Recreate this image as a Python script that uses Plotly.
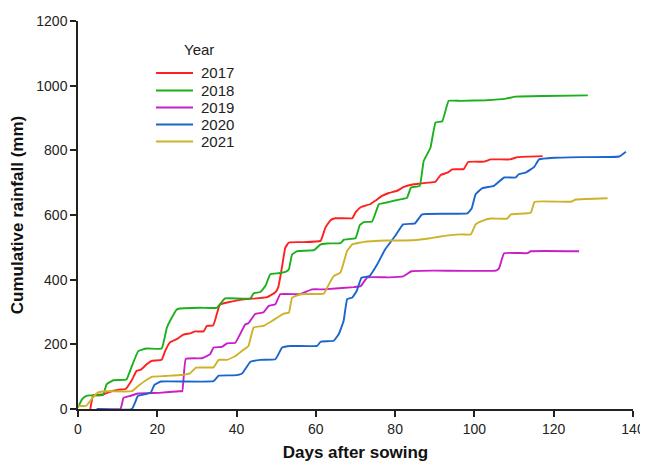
import plotly.graph_objects as go

# ---- data ----
years = ["2017", "2018", "2019", "2020", "2021"]
colors = ["#FF2020", "#1DB01D", "#C81FC8", "#1A66CC", "#CDB22A"]

days_2017 = [3.1, 3.8, 4.5, 6.3, 8.4, 10.4, 12, 13.6, 14.8, 15.9, 17.4, 18.6, 21.1, 22, 23.2, 24.9, 26.6, 28.3,
             29.6, 31.7, 32.5, 34.1, 35.5, 35.9, 37.1, 38.7, 40.2, 41.8, 44.9, 46.5, 47.7, 49.8, 50.5, 51.2, 52.3,
             53.2, 56.4, 61.2, 62.4, 63.7, 64.9, 69.2, 70, 71.3, 73.8, 75.1, 76.7, 78.4, 80.5, 82.2, 84.7, 86.2,
             88.3, 90.2, 91.5, 93.2, 94.4, 97.3, 98.4, 102.4, 104.1, 109, 110.9, 117.2]
rain_2017 = [0, 42, 44, 45, 55, 60, 62, 90, 118, 122, 139, 149, 152, 180, 206, 216, 230, 234,
             240, 240, 257, 258, 314, 324, 328, 332, 336, 339, 342, 344, 346, 361, 376, 420, 499,
             515, 516, 520, 561, 584, 590, 590, 608, 624, 634, 645, 659, 668, 675, 687, 695, 697,
             700, 703, 724, 731, 741, 742, 764, 765, 772, 772, 779, 782]

days_2018 = [0, 1, 2, 3, 6.3, 7.2, 8.9, 12.2, 13.5, 15.2, 17.3, 21.1, 22.4, 23.2, 24.9, 25.7, 30.8, 35, 36.2,
             37.1, 43.5, 44.3, 46, 47.3, 48.5, 50.6, 52.5, 53.2, 54, 55.3, 59.5, 61.2, 62.9, 66.2, 67.1, 70,
             71.1, 72.1, 74.2, 75.9, 77.6, 80, 82, 83, 84, 86.2, 87.2, 88.9, 90.2, 91.9, 93.5, 96.5, 103, 108,
             110.3, 117.9, 128.6]
rain_2018 = [5, 30, 40, 42, 43, 76, 89, 91, 130, 179, 187, 187, 251, 272, 308, 311, 313, 313, 330,
             342, 342, 358, 362, 381, 417, 420, 425, 432, 478, 488, 491, 509, 512, 513, 524, 528,
             569, 578, 580, 633, 638, 645, 650, 653, 685, 690, 767, 808, 886, 890, 953, 953, 955, 960,
             966, 968, 970]

days_2019 = [5, 10.7, 11.5, 13, 15.1, 20.4, 25.6, 26.3, 27.2, 31.3, 33.3, 34.2, 36.3, 37.6, 39.7, 42.2, 43,
             44.7, 46.8, 48.1, 49.8, 51, 56, 59, 62, 69.6, 71.3, 73, 78.4, 82, 84.1, 89.9, 105.4, 106.2,
             107.5, 113.4, 114.2, 126.4]
rain_2019 = [0, 0, 35, 40, 48, 50, 55, 55, 155, 157, 169, 190, 192, 203, 205, 262, 265,
             294, 299, 319, 324, 355, 355, 370, 370, 377, 380, 407, 407, 410, 426, 428, 428, 435,
             482, 482, 488, 488]

days_2020 = [4.7, 13.6, 15.1, 16.7, 18.3, 19.3, 20.9, 34.2, 35.5, 39.3, 41.4, 43.5, 46, 49.8, 51.5, 53.6,
             60.3, 61.2, 64.5, 65.8, 67, 67.9, 69.2, 70.3, 71.5, 73.5, 75.5, 77.5, 80, 82, 85, 86.8, 98.2,
             99.3, 100.3, 102, 104.9, 107.5, 110.4, 111.2, 112.9, 115.1, 116.3, 120.1, 126.9, 136.5, 138.2]
rain_2020 = [0, 0, 40, 45, 50, 75, 85, 86, 103, 104, 110, 146, 152, 154, 190, 195,
             195, 208, 211, 232, 272, 340, 345, 365, 406, 411, 448, 494, 535, 571, 574, 602, 605,
             620, 664, 683, 690, 716, 716, 726, 731, 749, 772, 777, 779, 781, 796]

days_2021 = [0, 2.1, 3.7, 5.2, 6.8, 13.6, 15.1, 16.7, 18.8, 21.9, 26.1, 28.2, 29.8, 34.2, 35.5, 37.6, 39.7,
             41.4, 43, 44.3, 46.8, 48.9, 51.9, 53.2, 54, 56.1, 62, 63.3, 64.5, 66.2, 67.9, 69.2, 72.1, 78,
             84.6, 88.8, 90.7, 96.5, 99.1, 100.3, 102, 104.1, 108.3, 109.2, 114.2, 115.2, 124.3, 125.6, 133.6]
rain_2021 = [10, 10, 35, 52, 55, 55, 70, 85, 100, 102, 105, 110, 128, 129, 152, 152, 164,
             180, 195, 252, 257, 272, 295, 298, 344, 355, 357, 386, 411, 422, 489, 509, 517, 521,
             522, 528, 532, 540, 540, 571, 582, 589, 589, 602, 607, 641, 641, 648, 652]

x_ticks = [0, 20, 40, 60, 80, 100, 120, 140]
y_ticks = [0, 200, 400, 600, 800, 1000, 1200]

series_days = [days_2017, days_2018, days_2019, days_2020, days_2021]
series_rain = [rain_2017, rain_2018, rain_2019, rain_2020, rain_2021]

# ---- figure ----
# page body has an 8px margin, so the figure is drawn 8px in from the top-left corner
OFF = 8
W, H = 648 - OFF, 465 - OFF
X0, X1, Y0, Y1 = 78, 633, 21, 409          # plot area in page pixels
L, R, T, B = X0 - OFF, 648 - X1, Y0 - OFF, 465 - Y1
pw, ph = X1 - X0, Y1 - Y0


def px(x):
    return (x - X0) / pw


def py(y):
    return (Y1 - y) / ph


fig = go.Figure()
for yr, c, d, r in zip(years, colors, series_days, series_rain):
    fig.add_trace(go.Scatter(x=d, y=r, mode="lines", name=yr,
                             line=dict(color=c, width=1.9, shape="spline", smoothing=0.3),
                             showlegend=False))

font = "Liberation Sans, Arial, sans-serif"

# manual legend
legend_y = [73, 90.5, 107.5, 124.5, 141.5]
shapes = []
annotations = [dict(x=px(182), y=py(50), xref="paper", yref="paper", text="Year", showarrow=False,
                    xanchor="left", yanchor="middle", font=dict(family=font, size=15, color="#222"))]
for yr, c, ly in zip(years, colors, legend_y):
    shapes.append(dict(type="line", xref="paper", yref="paper", x0=px(156), x1=px(193), y0=py(ly), y1=py(ly),
                       line=dict(color=c, width=2)))
    annotations.append(dict(x=px(199), y=py(ly), xref="paper", yref="paper", text=yr, showarrow=False,
                            xanchor="left", yanchor="middle", font=dict(family=font, size=15, color="#222")))

fig.update_layout(
    width=W, height=H,
    margin=dict(l=L, r=R, t=T, b=B, pad=0),
    paper_bgcolor="white", plot_bgcolor="white",
    font=dict(family=font, size=14, color="#222"),
    shapes=shapes, annotations=annotations,
    xaxis=dict(range=[0, 140], tickvals=x_ticks, showgrid=False, zeroline=False, automargin=False,
               showline=True, linecolor="#222", linewidth=1.5, ticks="outside", ticklen=6,
               tickwidth=1.5, tickcolor="#222", tickfont=dict(size=14),
               title=dict(text="<b>Days after sowing</b>", font=dict(size=17, color="#111"), standoff=11)),
    yaxis=dict(range=[0, 1200], tickvals=y_ticks, showgrid=False, zeroline=False, automargin=False,
               showline=True, linecolor="#222", linewidth=1.5, ticks="outside", ticklen=6,
               tickwidth=1.5, tickcolor="#222", tickfont=dict(size=14),
               title=dict(text="<b>Cumulative rainfall (mm)</b>", font=dict(size=17, color="#111"), standoff=8)),
)

fig.write_html("out.html")
